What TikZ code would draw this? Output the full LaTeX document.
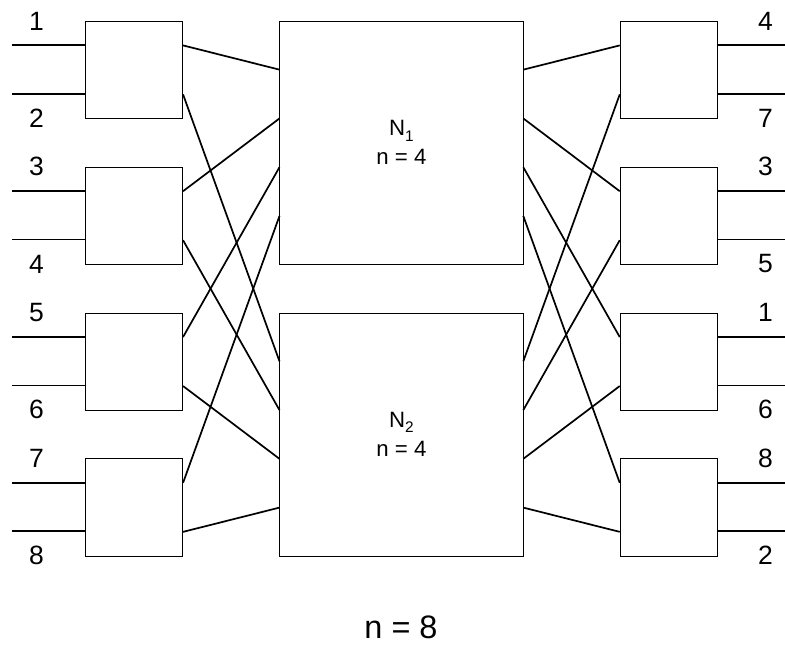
\documentclass[tikz,border=0pt]{standalone}
\usepackage{fontspec}
\setmainfont{Liberation Sans}
\usetikzlibrary{calc}

\begin{document}
\begin{tikzpicture}[x=0.5cm, y=0.5cm,
  sw/.style={draw=black, line width=0.45pt, anchor=north west,
    minimum width=2cm, minimum height=2cm, inner sep=0pt},
  net/.style={draw=black, line width=0.45pt, anchor=north west,
    minimum width=5cm, minimum height=5cm, inner sep=0pt,
    align=center, font=\fontsize{13pt}{17pt}\selectfont},
  wire/.style={line width=1pt},
  num/.style={font=\fontsize{15.5pt}{18pt}\selectfont, inner sep=0pt}
]
\useasboundingbox (-3.5,0.86) rectangle (28.8,-25.8);

% the two half-size networks
\node[net] (N1) at (8,0)   {N\raisebox{-0.45ex}{\fontsize{9pt}{9pt}\selectfont 1}\\n = 4};
\node[net] (N2) at (8,-12) {N\raisebox{-0.45ex}{\fontsize{9pt}{9pt}\selectfont 2}\\n = 4};

% 2x2 switches on both sides
\foreach \k in {1,...,4}{
  \node[sw] (L\k) at (0,{-6*(\k-1)}) {};
  \node[sw] (R\k) at (22,{-6*(\k-1)}) {};
}

% inputs on the left
\foreach \k/\ta/\tb in {1/1/2, 2/3/4, 3/5/6, 4/7/8}{
  \coordinate (inA\k) at (-3,{-6*\k+5});
  \coordinate (inB\k) at (-3,{-6*\k+3});
  \draw[wire] (inA\k) -- (inA\k -| L\k.west);
  \draw[wire] (inB\k) -- (inB\k -| L\k.west);
  \node[num] (inlabA\k) at (-2,{-6*\k+6}) {\ta};
  \node[num] (inlabB\k) at (-2,{-6*\k+2}) {\tb};
}

% outputs on the right
\foreach \k/\ta/\tb in {1/4/7, 2/3/5, 3/1/6, 4/8/2}{
  \coordinate (outA\k) at (29,{-6*\k+5});
  \coordinate (outB\k) at (29,{-6*\k+3});
  \draw[wire] (outA\k -| R\k.east) -- (outA\k);
  \draw[wire] (outB\k -| R\k.east) -- (outB\k);
  \node[num] (outlabA\k) at (28,{-6*\k+6}) {\ta};
  \node[num] (outlabB\k) at (28,{-6*\k+2}) {\tb};
}

% upper output of each switch to N1, lower one to N2
\foreach \k in {1,...,4}{
  \draw[wire] ($(L\k.north east)!0.25!(L\k.south east)$)
    -- ($(N1.north west)!0.2*\k!(N1.south west)$);
  \draw[wire] ($(L\k.north east)!0.75!(L\k.south east)$)
    -- ($(N2.north west)!0.2*\k!(N2.south west)$);
  \draw[wire] ($(N1.north east)!0.2*\k!(N1.south east)$)
    -- ($(R\k.north west)!0.25!(R\k.south west)$);
  \draw[wire] ($(N2.north east)!0.2*\k!(N2.south east)$)
    -- ($(R\k.north west)!0.75!(R\k.south west)$);
}

\node[font=\fontsize{19pt}{22pt}\selectfont] (total) at (13,-24.94) {n = 8};
\end{tikzpicture}
\end{document}
